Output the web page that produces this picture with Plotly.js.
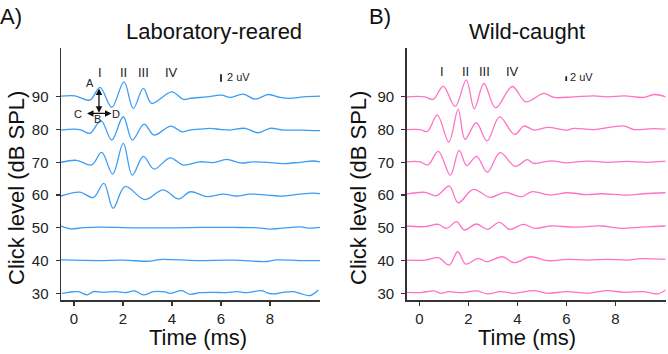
<!DOCTYPE html>
<html>
<head>
<meta charset="utf-8">
<script src="https://cdn.plot.ly/plotly-3.0.1.min.js"></script>
<style>html,body{margin:0;padding:0;background:#fff;}#chart{width:668px;height:354px;}</style>
</head>
<body>
<div id="chart"></div>
<script>
// Stimulus levels (dB SPL)
const levels = [90, 80, 70, 60, 50, 40, 30];
const xTickVals = [0, 2, 4, 6, 8];
const yTickVals = [30, 40, 50, 60, 70, 80, 90];
const waveLabels = ["I", "II", "III", "IV"];

// Laboratory-reared: time (ms) and deflection (in dB-axis units) for each level
const lab90_t = [-0.53, 0.04, 0.65, 1.06, 1.54, 2.04, 2.42, 2.83, 3.17, 3.99, 4.46, 4.73, 5.42, 6.03, 6.37, 6.91, 7.39, 7.93, 8.41, 8.82, 9.36, 10.04];
const lab90_v = [0.2, 0.3, -1.0, 2.87, -3.23, 4.58, -3.54, 2.56, -2.01, 1.53, -0.79, -0.5, 0, 0.5, -0.2, 0.8, -0.7, 0.7, -0.2, -0.5, 0, 0.2];
const lab80_t = [-0.53, 0.24, 0.65, 1.10, 1.54, 2.01, 2.38, 2.86, 3.27, 3.95, 4.40, 4.73, 5.14, 5.55, 6.0, 6.37, 6.98, 7.52, 8.0, 8.54, 9.22, 10.04];
const lab80_v = [-0.15, 0, -1.16, 2.75, -3.2, 3.9, -3.2, 1.68, -1.68, 1.07, -0.67, -0.15, 0.1, 0.37, 0, -0.15, 0.37, -0.98, 0.37, -0.15, -0.15, -0.35];
const lab70_t = [-0.53, 0.11, 0.72, 1.13, 1.58, 2.01, 2.38, 2.83, 3.27, 3.92, 4.46, 5.14, 5.69, 6.23, 6.78, 7.3, 7.87, 8.54, 9.22, 9.77, 10.04];
const lab70_v = [0, 0.6, -0.82, 3.02, -3.6, 5.77, -3.9, 1.8, -2.07, 1.37, -0.85, 0.15, -0.1, 0.88, -0.2, 0.1, 0.0, -0.4, 0.0, 0.4, 0.1];
const lab60_t = [-0.53, 0.24, 0.79, 1.22, 1.60, 2.08, 2.90, 3.64, 4.26, 4.76, 5.42, 6.09, 6.64, 7.18, 7.87, 8.54, 9.22, 9.77, 10.04];
const lab60_v = [-0.3, 0.9, -0.76, 3.57, -4.06, 2.6, -1.4, 1.6, -1.2, 1.0, -0.5, 0.3, -0.3, 0.3, 0, -0.3, 0.3, 0.6, 0.4];
const lab50_t = [-0.53, -0.16, 0.4, 1.06, 2.42, 4.05, 5.2, 6.5, 7.5, 8.0, 9.22, 9.63, 10.04];
const lab50_v = [0.5, -0.3, 0.05, 0.2, 0, 0, 0.1, 0.1, 0, -0.4, 0.3, -0.1, 0.1];
const lab40_t = [-0.53, 1.0, 2.0, 3.1, 3.5, 5.0, 6.5, 7.87, 8.27, 9.2, 10.04];
const lab40_v = [0.2, 0, 0.1, -0.2, 0.3, 0, 0.1, -0.3, 0.2, 0, 0];
const lab30_t = [-0.5, -0.23, 0.18, 0.54, 0.79, 1.2, 1.74, 2.08, 2.49, 2.83, 3.24, 3.71, 3.92, 4.4, 4.73, 5.14, 5.69, 6.23, 6.64, 7.05, 7.66, 7.87, 8.14, 8.54, 8.95, 9.22, 9.63, 9.97];
const lab30_v = [0, 0.3, 0.5, -0.5, 0.5, 0.3, 0.5, 0.2, 0.7, -0.5, 0.5, 0.4, 0, 0.8, -0.3, 0.2, 0.3, 0.2, 0.5, 0.2, 0.8, 0.2, -0.2, 0.3, 0.5, 0, -0.7, 1.0];

// Wild-caught
const wild90_t = [-0.52, 0.22, 0.56, 0.97, 1.46, 1.91, 2.24, 2.63, 3.11, 3.79, 4.34, 5.08, 5.49, 6.31, 7.12, 7.67, 8.35, 9.16, 9.57, 10.05];
const wild90_v = [0, 0, -0.82, 3.2, -2.93, 5.19, -3.69, 4.06, -3.39, 3.14, -1.53, 1.04, -0.2, 0, 0.3, 0, 0.3, -0.2, 0.7, 0];
const wild80_t = [-0.52, 0.02, 0.32, 0.73, 1.2, 1.58, 1.86, 2.32, 2.76, 3.27, 3.88, 4.27, 4.67, 5.22, 6.03, 6.31, 7.12, 8.35, 8.76, 9.57, 10.05];
const wild80_v = [0, 0, -0.6, 4.42, -3.81, 6.16, -2.96, 2.07, -3.48, 3.87, -1.5, 1.07, -0.15, 0.67, -0.15, 0.36, 0, 1.07, 0, 0.3, 0.1];
const wild70_t = [-0.52, 0.02, 0.35, 0.77, 1.26, 1.62, 1.93, 2.33, 2.77, 3.29, 3.91, 4.4, 4.67, 5.36, 6.03, 6.85, 7.67, 8.48, 9.3, 10.05];
const wild70_v = [0.15, 0.15, -0.76, 3.33, -3.9, 3.63, -1.0, 1.83, -3.0, 2.96, -1.25, 0.82, -0.34, 0.46, -0.15, 0.36, 0, 0.3, 0, 0.36];
const wild60_t = [-0.52, 0.22, 0.7, 1.22, 1.58, 2.2, 2.88, 3.49, 4.17, 4.58, 5.36, 6.03, 6.85, 7.4, 8.48, 9.16, 10.05];
const wild60_v = [0.3, 0.82, -0.2, 2.75, -2.35, 1.74, -0.7, 0.82, -0.5, 1.0, 0, 0.7, 0.1, 0.4, 0, 0.4, 0.7];
const wild50_t = [-0.52, 0.22, 0.77, 1.11, 1.52, 1.83, 2.33, 2.78, 3.26, 3.69, 4.24, 4.71, 5.36, 6.31, 7.4, 8.21, 9.03, 9.57, 10.05];
const wild50_v = [0.55, 0.35, 1.06, -0.16, 1.87, -0.67, 1.16, -0.46, 1.67, -0.46, 1.06, -0.16, 0.55, 0.2, 0.55, -0.16, 0.2, 0.4, 0.55];
const wild40_t = [-0.52, 0.22, 0.77, 1.22, 1.56, 1.89, 2.4, 2.74, 3.38, 3.86, 4.54, 5.22, 6.03, 6.85, 7.67, 8.48, 9.03, 10.05];
const wild40_v = [0.15, 0.15, 0.86, -1.37, 2.69, -1.07, 0.66, -0.36, 1.16, -0.66, 1.16, -0.05, 0.37, 0.15, 0.37, 0.15, 0.56, 0.37];
const wild30_t = [-0.52, 0.05, 0.59, 0.87, 1.2, 1.68, 2.36, 2.77, 3.31, 3.87, 4.67, 5.22, 6.03, 6.85, 7.67, 8.35, 9.16, 9.71, 10.05];
const wild30_v = [0.3, 0.2, 0.71, 0, 0.5, 0.2, 0.71, -0.2, 0.5, 0, 0.8, 0, 0.5, 0, 0.8, 0.3, 0.5, -0.2, 1.0];

const labT = [lab90_t, lab80_t, lab70_t, lab60_t, lab50_t, lab40_t, lab30_t];
const labV = [lab90_v, lab80_v, lab70_v, lab60_v, lab50_v, lab40_v, lab30_v];
const wildT = [wild90_t, wild80_t, wild70_t, wild60_t, wild50_t, wild40_t, wild30_t];
const wildV = [wild90_v, wild80_v, wild70_v, wild60_v, wild50_v, wild40_v, wild30_v];

// Wave peak label positions (ms)
const labPeakT = [1.06, 2.01, 2.82, 3.96];
const wildPeakT = [0.93, 1.88, 2.67, 3.78];

const BLUE = '#3c9df5';
const PINK = '#ff72c6';
const FONT = 'Arial, "Liberation Sans", Helvetica, sans-serif';

const traces = [];
levels.forEach((lv, i) => {
  traces.push({
    x: labT[i], y: labV[i].map(v => v + lv), xaxis: 'x', yaxis: 'y',
    mode: 'lines', line: {color: BLUE, width: 1.3, shape: 'spline', smoothing: 1},
    hoverinfo: 'skip', showlegend: false
  });
  traces.push({
    x: wildT[i], y: wildV[i].map(v => v + lv), xaxis: 'x2', yaxis: 'y2',
    mode: 'lines', line: {color: PINK, width: 1.3, shape: 'spline', smoothing: 1},
    hoverinfo: 'skip', showlegend: false
  });
});

const W = 668, H = 354;
const px = v => v / W;
const py = v => 1 - v / H;

const axX = (dom) => ({
  domain: dom, range: [-0.53, 10.04], tickvals: xTickVals, ticktext: xTickVals.map(String),
  showline: true, linecolor: '#333', linewidth: 1.5, ticks: 'outside', ticklen: 4, tickwidth: 1.3,
  tickcolor: '#333', showgrid: false, zeroline: false,
  tickfont: {family: FONT, size: 15, color: '#222'}
});
const axY = (anchor) => ({
  domain: [54 / H, 306 / H], range: [27.95, 104.9], tickvals: yTickVals,
  showline: true, linecolor: '#333', linewidth: 1.5, ticks: 'outside', ticklen: 4, tickwidth: 1.3,
  tickcolor: '#333', showgrid: false, zeroline: false, anchor: anchor,
  ticklabelstandoff: 4,
  tickfont: {family: FONT, size: 15, color: '#222'}
});

const ann = [];
const txt = (text, x, y, size, extra) => Object.assign({
  text: text, x: x, y: y, xref: 'paper', yref: 'paper', showarrow: false,
  xanchor: 'center', yanchor: 'middle', font: {family: FONT, size: size, color: '#111'}
}, extra || {});

ann.push(txt('A)', px(11), py(16), 22));
ann.push(txt('B)', px(380), py(16), 22));
ann.push(txt('Laboratory-reared', px(214), py(31), 22));
ann.push(txt('Wild-caught', px(527), py(31), 22));
ann.push(txt('Time (ms)', px(197.5), py(337), 22));
ann.push(txt('Time (ms)', px(527.3), py(337), 22));
ann.push(txt('Click level (dB SPL)', px(16), py(188), 22, {textangle: -90}));
ann.push(txt('Click level (dB SPL)', px(358), py(188), 22, {textangle: -90}));

waveLabels.forEach((lab, i) => {
  ann.push({text: lab, x: labPeakT[i], y: 97.4, xref: 'x', yref: 'y', showarrow: false,
    xanchor: 'center', yanchor: 'middle', font: {family: FONT, size: 13, color: '#222'}});
  ann.push({text: lab, x: wildPeakT[i], y: 97.8, xref: 'x2', yref: 'y2', showarrow: false,
    xanchor: 'center', yanchor: 'middle', font: {family: FONT, size: 13, color: '#222'}});
});

// latency/amplitude markers (A-D)
const smallFont = {family: FONT, size: 11, color: '#222'};
ann.push({text: 'A', x: 0.65, y: 94.2, xref: 'x', yref: 'y', showarrow: false, font: smallFont});
ann.push({text: 'C', x: 0.18, y: 84.9, xref: 'x', yref: 'y', showarrow: false, font: smallFont});
ann.push({text: 'B', x: 0.95, y: 83.1, xref: 'x', yref: 'y', showarrow: false, font: smallFont});
ann.push({text: 'D', x: 1.70, y: 84.9, xref: 'x', yref: 'y', showarrow: false, font: smallFont});
ann.push({text: '', x: 1.02, y: 85.1, ax: 1.02, ay: 93.0, xref: 'x', yref: 'y', axref: 'x', ayref: 'y',
  showarrow: true, arrowhead: 2, arrowside: 'end+start', arrowsize: 1, arrowwidth: 1.3, arrowcolor: '#111'});
ann.push({text: '', x: 1.53, y: 84.93, ax: 0.47, ay: 84.93, xref: 'x', yref: 'y', axref: 'x', ayref: 'y',
  showarrow: true, arrowhead: 2, arrowside: 'end+start', arrowsize: 1, arrowwidth: 1.3, arrowcolor: '#111'});

// 2 uV scale bars
ann.push({text: '2 uV', x: 6.73, y: 95.9, xref: 'x', yref: 'y', showarrow: false, font: smallFont});
ann.push({text: '2 uV', x: 6.63, y: 95.9, xref: 'x2', yref: 'y2', showarrow: false, font: smallFont});
const shapes = [
  {type: 'line', xref: 'x', yref: 'y', x0: 6.0, x1: 6.0, y0: 94.6, y1: 96.9, line: {color: '#222', width: 1.8}},
  {type: 'line', xref: 'x2', yref: 'y2', x0: 5.99, x1: 5.99, y0: 94.8, y1: 96.3, line: {color: '#222', width: 1.8}}
];

const layout = {
  width: W, height: H, margin: {l: 0, r: 0, t: 0, b: 0},
  paper_bgcolor: '#fff', plot_bgcolor: '#fff',
  xaxis: axX([61 / W, 320 / W]),
  yaxis: axY('x'),
  xaxis2: Object.assign(axX([406.7 / W, 665.7 / W]), {anchor: 'y2', range: [-0.52, 10.05]}),
  yaxis2: axY('x2'),
  annotations: ann, shapes: shapes, showlegend: false
};
layout.xaxis.anchor = 'y';

Plotly.newPlot('chart', traces, layout, {staticPlot: true, displayModeBar: false});
</script>
</body>
</html>
